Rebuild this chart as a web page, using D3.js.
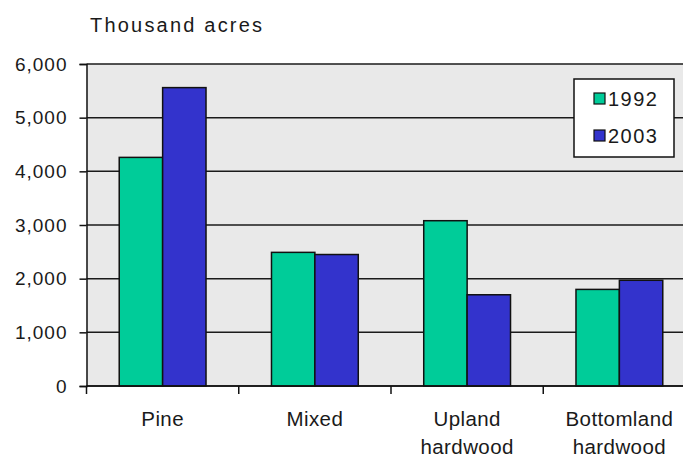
<!DOCTYPE html>
<html>
<head>
<meta charset="utf-8">
<script src="https://cdn.jsdelivr.net/npm/d3@7"></script>
<style>
  body { margin: 0; background: #fff; }
  svg { display: block; font-family: "Liberation Sans", Arial, sans-serif; }
</style>
</head>
<body>
<div id="chart"></div>
<script>
// Chart data
var categories = ["Pine", "Mixed", "Upland\nhardwood", "Bottomland\nhardwood"];
var seriesNames = ["1992", "2003"];
var values1992 = [4260, 2490, 3080, 1800];
var values2003 = [5560, 2450, 1700, 1970];
var yTicks = [0, 1000, 2000, 3000, 4000, 5000, 6000];
var colors = ["#00CC99", "#3333CC"];

//Plot dimensions (note: "top" is taken by window.top)
var width = 683, height = 457;
var plotLeft = 86.5, plotTop = 64, plotW = 609, plotH = 322;

var svg = d3.select("#chart").append("svg")
  .attr("width", width)
  .attr("height", height);

var x0 = d3.scaleBand()
  .domain(categories)
  .range([plotLeft, plotLeft + plotW])
  .paddingInner(0.43)
  .paddingOuter(0.215);

var x1 = d3.scaleBand()
  .domain(seriesNames)
  .range([0, x0.bandwidth()]);

var y = d3.scaleLinear()
  .domain([0, 6000])
  .range([plotTop + plotH, plotTop]);

// plot background
svg.append("rect")
  .attr("x", plotLeft).attr("y", plotTop)
  .attr("width", plotW).attr("height", plotH)
  .attr("fill", "#E9E9E9");

// grid lines
svg.selectAll("line.grid")
  .data(yTicks)
  .enter().append("line")
  .attr("class", "grid")
  .attr("x1", plotLeft).attr("x2", plotLeft + plotW)
  .attr("y1", function(d) { return y(d); })
  .attr("y2", function(d) { return y(d); })
  .attr("stroke", "#1a1a1a")
  .attr("stroke-width", 1.5);

// bars
var rows = categories.map(function(c, i) {
  return { cat: c, vals: [values1992[i], values2003[i]] };
});

var groups = svg.selectAll("g.cat")
  .data(rows)
  .enter().append("g")
  .attr("class", "cat")
  .attr("transform", function(d) { return "translate(" + x0(d.cat) + ",0)"; });

groups.selectAll("rect")
  .data(function(d) { return d.vals.map(function(v, j) { return { s: seriesNames[j], v: v, j: j }; }); })
  .enter().append("rect")
  .attr("x", function(d) { return x1(d.s); })
  .attr("y", function(d) { return y(d.v); })
  .attr("width", x1.bandwidth())
  .attr("height", function(d) { return y(0) - y(d.v); })
  .attr("fill", function(d) { return colors[d.j]; })
  .attr("stroke", "#111")
  .attr("stroke-width", 1.5);

// y axis
var yAxis = d3.axisLeft(y)
  .tickValues(yTicks)
  .tickFormat(d3.format(","))
  .tickSize(7)
  .tickPadding(12);

var yg = svg.append("g")
  .attr("transform", "translate(" + plotLeft + ",0)")
  .call(yAxis);
yg.select(".domain").attr("stroke", "#111").attr("stroke-width", 1.5);
yg.selectAll(".tick line").attr("stroke", "#111").attr("stroke-width", 1.5);
yg.selectAll("text")
  .attr("font-size", 19)
  .attr("letter-spacing", "1px")
  .attr("fill", "#1a1a1a")
  .attr("font-family", "Liberation Sans, Arial, sans-serif");

// x axis ticks at category boundaries
var boundaries = categories.map(function(c) { return x0(c) - x0.step() * x0.paddingOuter(); });
boundaries.push(plotLeft + plotW);
svg.append("line")
  .attr("x1", plotLeft).attr("x2", plotLeft + plotW)
  .attr("y1", y(0)).attr("y2", y(0))
  .attr("stroke", "#111").attr("stroke-width", 1.5);
svg.selectAll("line.xtick")
  .data(boundaries)
  .enter().append("line")
  .attr("class", "xtick")
  .attr("x1", function(d) { return d; }).attr("x2", function(d) { return d; })
  .attr("y1", y(0)).attr("y2", y(0) + 8)
  .attr("stroke", "#111").attr("stroke-width", 1.5);

// category labels
var labels = svg.selectAll("text.cat")
  .data(categories)
  .enter().append("text")
  .attr("class", "cat")
  .attr("text-anchor", "middle")
  .attr("font-size", 20.5)
  .attr("letter-spacing", "0.4px")
  .attr("fill", "#1a1a1a")
  .attr("transform", function(d) { return "translate(" + (x0(d) + x0.bandwidth() / 2) + "," + (y(0) + 40) + ")"; });

labels.selectAll("tspan")
  .data(function(d) { return d.split("\n"); })
  .enter().append("tspan")
  .attr("x", 0)
  .attr("dy", function(d, i) { return i === 0 ? 0 : 28; })
  .text(function(d) { return d; });

// title
svg.append("text")
  .attr("x", 90).attr("y", 32)
  .attr("font-size", 20)
  .attr("letter-spacing", "2.2px")
  .attr("fill", "#1a1a1a")
  .text("Thousand acres");

// legend
var legend = svg.append("g").attr("transform", "translate(574,79)");
legend.append("rect")
  .attr("width", 100).attr("height", 78)
  .attr("fill", "#fff")
  .attr("stroke", "#111").attr("stroke-width", 1.5);

var items = legend.selectAll("g.item")
  .data(seriesNames)
  .enter().append("g")
  .attr("class", "item")
  .attr("transform", function(d, i) { return "translate(20," + (14 + i * 37) + ")"; });

items.append("rect")
  .attr("width", 11).attr("height", 11)
  .attr("fill", function(d, i) { return colors[i]; })
  .attr("stroke", "#111").attr("stroke-width", 1.2);

items.append("text")
  .attr("x", 14).attr("y", 12.5)
  .attr("font-size", 20)
  .attr("letter-spacing", "1.5px")
  .attr("fill", "#1a1a1a")
  .text(function(d) { return d; });
</script>
</body>
</html>
